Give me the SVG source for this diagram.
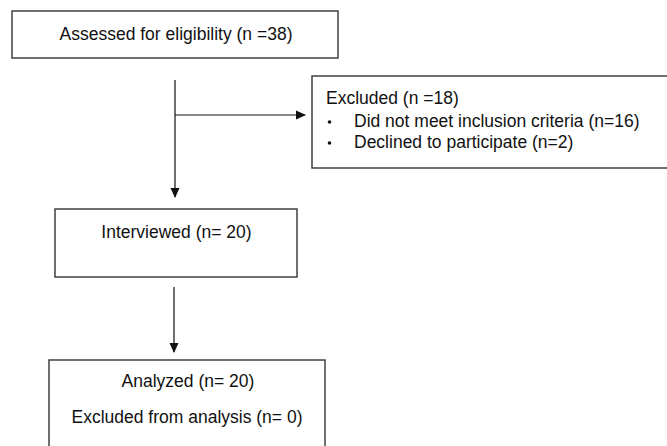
<svg xmlns="http://www.w3.org/2000/svg" width="667" height="446" viewBox="0 0 667 446">
<style>
.box{fill:#fff;stroke:#404040;stroke-width:1.5}
.t{font-family:"Liberation Sans",Arial,sans-serif;font-size:17.5px;fill:#111}
.c{text-anchor:middle}
.ln{stroke:#111;stroke-width:1.2;fill:none}
</style>
<defs>
<marker id="ah" markerWidth="10" markerHeight="10" refX="9" refY="5" orient="auto" markerUnits="userSpaceOnUse">
<path d="M0,0.5 L10,5 L0,9.5 Z" fill="#111"/>
</marker>
</defs>
<rect width="667" height="446" fill="#fff"/>
<g id="assessed">
<rect class="box" x="12" y="11" width="326" height="47"/>
<text class="t c" x="176" y="40">Assessed for eligibility (n =38)</text>
</g>
<g id="excluded">
<rect class="box" x="312" y="76" width="360" height="92"/>
<text class="t" x="326" y="104">Excluded (n =18)</text>
<circle cx="329.5" cy="122" r="1.8" fill="#111"/>
<text class="t" x="354" y="127">Did not meet inclusion criteria (n=16)</text>
<circle cx="329.5" cy="143" r="1.8" fill="#111"/>
<text class="t" x="354" y="148">Declined to participate (n=2)</text>
</g>
<g id="interviewed">
<rect class="box" x="55" y="209" width="242" height="68"/>
<text class="t c" x="176.5" y="238">Interviewed (n= 20)</text>
</g>
<g id="analyzed">
<rect class="box" x="49" y="360" width="276" height="100"/>
<text class="t c" x="188" y="387">Analyzed (n= 20)</text>
<text class="t c" x="187" y="423">Excluded from analysis (n= 0)</text>
</g>
<g id="connectors">
<line class="ln" x1="175" y1="80" x2="175" y2="197" marker-end="url(#ah)"/>
<line class="ln" x1="175" y1="115" x2="305" y2="115" marker-end="url(#ah)"/>
<line class="ln" x1="174" y1="287" x2="174" y2="352" marker-end="url(#ah)"/>
</g>
</svg>
